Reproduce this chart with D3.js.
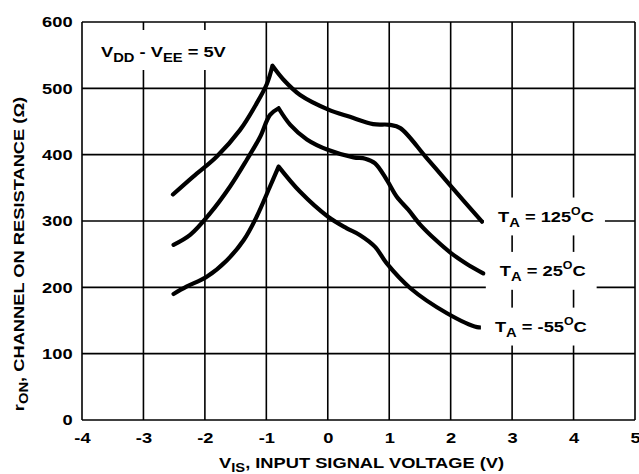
<!DOCTYPE html>
<html>
<head>
<meta charset="utf-8">
<script src="https://cdn.jsdelivr.net/npm/d3@7"></script>
<style>
body { margin: 0; background: #fff; }
svg text { font-family: "Liberation Sans", Arial, sans-serif; font-weight: bold; fill: #000; }
</style>
</head>
<body>
<svg id="chart" width="639" height="474"></svg>
<script>
var xTicks = [-4, -3, -2, -1, 0, 1, 2, 3, 4, 5]
var yTicks = [0, 100, 200, 300, 400, 500, 600]

// r_ON vs V_IS
var t125 = [[-2.52,340],[-2.19,367],[-1.81,397],[-1.43,437],[-1.16,477],[-0.99,507],[-0.90,534],
    [-0.72,513],[-0.45,490],[0.01,468],[0.36,457],[0.74,446],[1.01,445],[1.18,440],[1.6,396],[2.0,353],[2.51,299]]
var t25 = [[-2.51,264],[-2.24,279],[-1.92,311],[-1.59,352],[-1.32,392],[-1.10,427],[-0.94,460],[-0.80,470],
    [-0.61,445],[-0.34,423],[0.01,407],[0.42,396],[0.61,394],[0.77,387],[0.96,362],[1.12,337],[1.31,317],
    [1.5,295],[1.75,272],[2.0,252],[2.25,236],[2.53,221]]
var tm55 = [[-2.51,190],[-2.30,201],[-1.97,216],[-1.64,241],[-1.37,271],[-1.16,306],[-0.94,352],[-0.80,382],
    [-0.45,344],[0.01,306],[0.31,289],[0.52,279],[0.77,261],[0.96,236],[1.34,199],[1.94,161],[2.43,140],[2.56,140]]

var labels = [
    {temp: "125", x: 2.77, y: 299},
    {temp: "25", x: 2.8, y: 217},
    {temp: "-55", x: 2.72, y: 133}
]

const M = {top: 22, left: 82}
const W = 553, H = 398
const FS = 15.5, SUB = 12.5, SX = 1.18   // the datasheet type is drawn wide

const x = d3.scaleLinear().domain([-4, 5]).range([0, W])
const y = d3.scaleLinear().domain([0, 600]).range([H, 0])

const svg = d3.select("#chart")
const g = svg.append("g").attr("transform", `translate(${M.left},${M.top})`)

// grid
g.selectAll(".vg").data(xTicks).enter().append("line")
    .attr("x1", d => x(d)).attr("x2", d => x(d)).attr("y1", 0).attr("y2", H)
    .attr("stroke", "#000").attr("stroke-width", 1.6)
g.selectAll(".hg").data(yTicks).enter().append("line")
    .attr("x1", 0).attr("x2", W).attr("y1", d => y(d)).attr("y2", d => y(d))
    .attr("stroke", "#000").attr("stroke-width", 1.6)

// tick labels
g.append("g").attr("transform", `translate(0,${H})`)
    .call(d3.axisBottom(x).tickValues(xTicks).tickSize(0).tickPadding(12).tickFormat(d => String(d)))
    .call(a => a.select(".domain").remove())
    .selectAll("text").attr("font-size", FS).attr("font-family", "Liberation Sans, Arial").attr("font-weight", "bold")
    .attr("transform", `scale(${SX},1)`)
g.append("g")
    .call(d3.axisLeft(y).tickValues(yTicks).tickSize(0).tickPadding(8))
    .call(a => a.select(".domain").remove())
    .selectAll("text").attr("font-size", FS).attr("font-family", "Liberation Sans, Arial").attr("font-weight", "bold")
    .attr("transform", `scale(${SX},1)`)

// white box behind the supply note
g.append("rect").attr("x", 10).attr("y", 8).attr("width", 146).attr("height", 40).attr("fill", "#fff")

// rising and falling halves drawn separately so the peak stays sharp
function peakPath(s) {
    var k = d3.maxIndex(s, d => d[1])
    var p = d3.path()
    var ln = d3.line().x(d => x(d[0])).y(d => y(d[1])).curve(d3.curveCatmullRom.alpha(0.5)).context(p)
    ln(s.slice(0, k + 1))
    ln(s.slice(k))
    return p.toString()
}
;[t125, t25, tm55].forEach(s => {
    g.append("path").attr("d", peakPath(s))
        .attr("fill", "none").attr("stroke", "#000").attr("stroke-width", 4.2)
        .attr("stroke-linecap", "round")
})

function wideText(parent, px, py) {
    return parent.append("text").attr("transform", `translate(${px},${py}) scale(${SX},1)`).attr("font-size", FS)
}

var lg = g.append("g")
labels.forEach(l => {
    const box = lg.append("rect").attr("fill", "#fff")
    const t = wideText(lg, x(l.x), y(l.y))
    t.append("tspan").text("T")
    t.append("tspan").text("A").attr("font-size", SUB).attr("dy", 5)
    t.append("tspan").text(" = " + l.temp).attr("dy", -5)
    t.append("tspan").text("O").attr("font-size", 10.5).attr("dy", -7)
    t.append("tspan").text("C").attr("dy", 7)
    const bb = t.node().getBBox()
    box.attr("x", x(l.x) - 14).attr("y", y(l.y) + bb.y - 8)
        .attr("width", bb.width * SX + 25).attr("height", bb.height + 14)
})

const ann = wideText(g, 19, 35)
ann.append("tspan").text("V")
ann.append("tspan").text("DD").attr("font-size", SUB).attr("dy", 5)
ann.append("tspan").text(" - V").attr("dy", -5)
ann.append("tspan").text("EE").attr("font-size", SUB).attr("dy", 5)
ann.append("tspan").text(" = 5V").attr("dy", -5)

// axis titles
const xt = wideText(svg, M.left + W / 2 + 3, 468).attr("text-anchor", "middle")
xt.append("tspan").text("V")
xt.append("tspan").text("IS").attr("font-size", SUB).attr("dy", 4)
xt.append("tspan").text(", INPUT SIGNAL VOLTAGE (V)").attr("dy", -4)

const yt = svg.append("text").attr("transform", `translate(24,254) rotate(-90) scale(${SX},1)`)
    .attr("text-anchor", "middle").attr("font-size", FS)
yt.append("tspan").text("r")
yt.append("tspan").text("ON").attr("font-size", SUB).attr("dy", 4)
yt.append("tspan").text(", CHANNEL ON RESISTANCE (Ω)").attr("dy", -4)
</script>
</body>
</html>
